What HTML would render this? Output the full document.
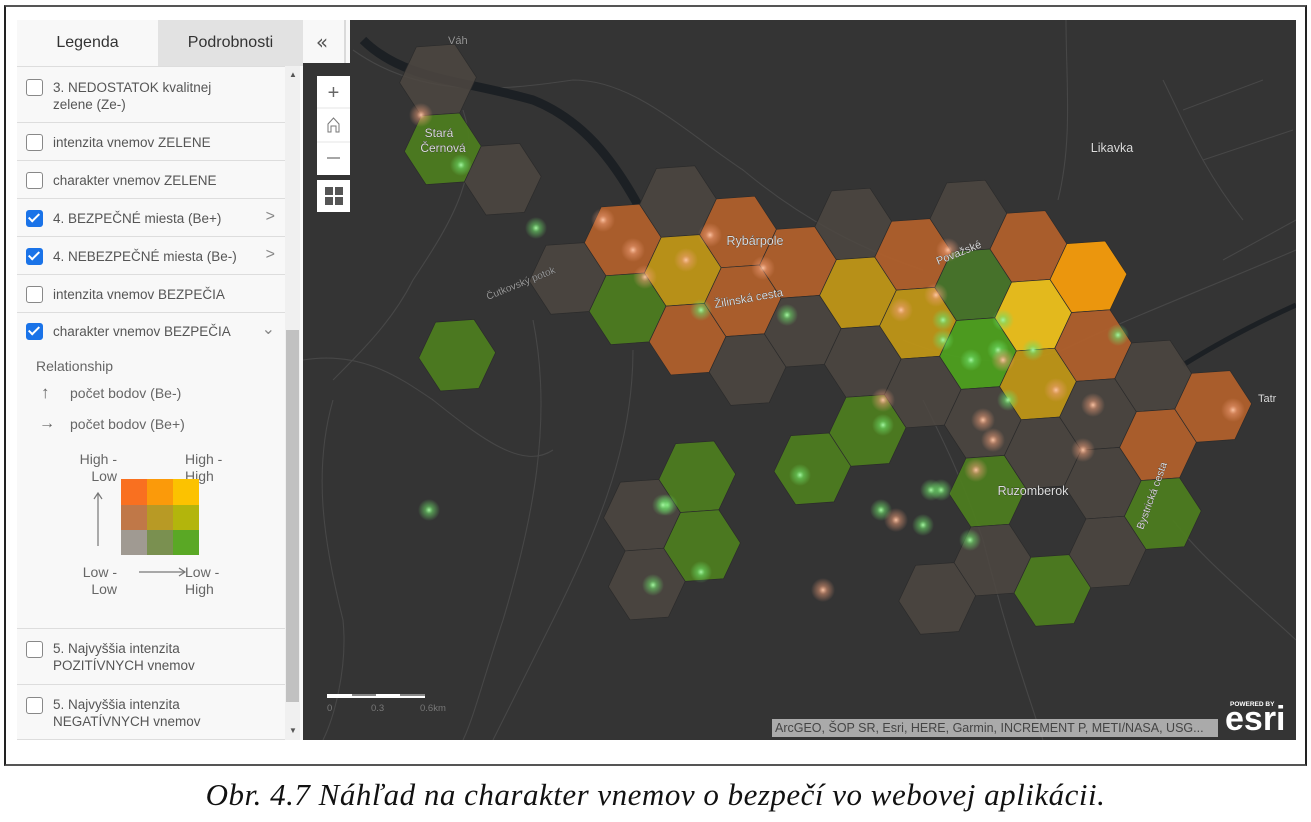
<!DOCTYPE html>
<html><head><meta charset="utf-8"><style>
body{margin:0;width:1311px;height:822px;background:#fff;position:relative;overflow:hidden;font-family:"Liberation Sans",sans-serif}
.frame{position:absolute;left:4px;top:5px;width:1299px;height:757px;border:2px solid #222;border-top-color:#555;border-bottom-color:#555}
.panel{position:absolute;left:17px;top:20px;width:286px;height:720px;background:#f8f8f8}
.tab{position:absolute;top:0;height:46px;line-height:46px;text-align:center;font-size:16px;color:#333}
.row{position:absolute;left:0;width:268px;border-bottom:1px solid #ddd;font-size:13.5px;color:#555}
.cb{position:absolute;left:9px;width:15px;height:15px;border:1.5px solid #888;border-radius:3px;background:#fff}
.cb.on{background:#1a73e8;border-color:#1a73e8}
.cb.on:after{content:"";position:absolute;left:4px;top:0px;width:4px;height:9px;border:solid #fff;border-width:0 2.5px 2.5px 0;transform:rotate(45deg)}
.lbl{position:absolute;left:36px;line-height:17px}
.chev{position:absolute;right:10px;color:#888;font-size:16px}
.sm{position:absolute;font-size:14px;color:#666;line-height:17px}
.caption{position:absolute;left:0;width:1311px;top:777px;text-align:center;font-family:"Liberation Serif",serif;font-style:italic;font-size:31px;color:#111;letter-spacing:0.5px}
</style></head><body>
<div class="frame"></div>
<div class="panel">
  <div class="tab" style="left:0;width:141px;background:#f8f8f8">Legenda</div>
  <div class="tab" style="left:141px;width:145px;background:#e2e2e2">Podrobnosti</div>
  <div style="position:absolute;left:0;top:46px;width:268px;height:1px;background:#ddd"></div>
  <div class="row" style="top:47px;height:55px"><div class="cb" style="top:12px"></div><div class="lbl" style="top:12px">3. NEDOSTATOK kvalitnej<br>zelene (Ze-)</div></div>
  <div class="row" style="top:103px;height:37px"><div class="cb" style="top:11px"></div><div class="lbl" style="top:11px">intenzita vnemov ZELENE</div></div>
  <div class="row" style="top:141px;height:37px"><div class="cb" style="top:11px"></div><div class="lbl" style="top:11px">charakter vnemov ZELENE</div></div>
  <div class="row" style="top:179px;height:37px"><div class="cb on" style="top:11px"></div><div class="lbl" style="top:11px">4. BEZPEČNÉ miesta (Be+)</div><div class="chev" style="top:9px">&gt;</div></div>
  <div class="row" style="top:217px;height:37px"><div class="cb on" style="top:11px"></div><div class="lbl" style="top:11px">4. NEBEZPEČNÉ miesta (Be-)</div><div class="chev" style="top:9px">&gt;</div></div>
  <div class="row" style="top:255px;height:37px"><div class="cb" style="top:11px"></div><div class="lbl" style="top:11px">intenzita vnemov BEZPEČIA</div></div>
  <div class="row" style="top:293px;height:315px"><div class="cb on" style="top:10px"></div><div class="lbl" style="top:10px">charakter vnemov BEZPEČIA</div><div class="chev" style="top:6px">&#8964;</div>
    <div class="sm" style="left:19px;top:45px">Relationship</div>
    <div class="sm" style="left:24px;top:71px;font-size:17px">&#8593;</div><div class="sm" style="left:53px;top:72px">počet bodov (Be-)</div>
    <div class="sm" style="left:22px;top:102px;font-size:16px">&#8594;</div><div class="sm" style="left:53px;top:103px">počet bodov (Be+)</div>
    <div class="sm" style="left:50px;top:138px;text-align:right;width:50px">High -<br>Low</div>
    <div class="sm" style="left:168px;top:138px">High -<br>High</div>
    <div class="sm" style="left:50px;top:251px;text-align:right;width:50px">Low -<br>Low</div>
    <div class="sm" style="left:168px;top:251px">Low -<br>High</div>
    <svg style="position:absolute;left:70px;top:160px" width="130" height="110">
      <line x1="11" y1="20" x2="11" y2="73" stroke="#777" stroke-width="1.2"/><path d="M7,26 L11,20 L15,26" fill="none" stroke="#777" stroke-width="1.2"/>
      <line x1="52" y1="99" x2="98" y2="99" stroke="#777" stroke-width="1.2"/><path d="M92,95 L98,99 L92,103" fill="none" stroke="#777" stroke-width="1.2"/>
      <rect x="34" y="6" width="26" height="26" fill="#f97020"/><rect x="60" y="6" width="26" height="26" fill="#fb9a0a"/><rect x="86" y="6" width="26" height="26" fill="#fcc200"/>
      <rect x="34" y="32" width="26" height="25" fill="#c07848"/><rect x="60" y="32" width="26" height="25" fill="#b89a25"/><rect x="86" y="32" width="26" height="25" fill="#b3b50c"/>
      <rect x="34" y="57" width="26" height="25" fill="#a09a92"/><rect x="60" y="57" width="26" height="25" fill="#7a9050"/><rect x="86" y="57" width="26" height="25" fill="#5aa825"/>
    </svg>
  </div>
  <div class="row" style="top:609px;height:55px"><div class="cb" style="top:12px"></div><div class="lbl" style="top:11px">5. Najvyššia intenzita<br>POZITÍVNYCH vnemov</div></div>
  <div class="row" style="top:665px;height:54px"><div class="cb" style="top:12px"></div><div class="lbl" style="top:11px">5. Najvyššia intenzita<br>NEGATÍVNYCH vnemov</div></div>
  <div style="position:absolute;left:268px;top:46px;width:15px;height:674px;background:#f0f0f0">
    <div style="position:absolute;left:1px;top:264px;width:13px;height:372px;background:#c1c1c1"></div>
    <div style="position:absolute;left:4px;top:4px;font-size:8px;color:#555">&#9650;</div>
    <div style="position:absolute;left:4px;top:660px;font-size:8px;color:#555">&#9660;</div>
  </div>
</div>
<svg style="position:absolute;left:303px;top:20px" width="993" height="720" id="map">
  <defs>
    <radialGradient id="gg"><stop offset="0" stop-color="#a6f5a2" stop-opacity="1"/><stop offset=".35" stop-color="#6ee06a" stop-opacity=".55"/><stop offset="1" stop-color="#6ee06a" stop-opacity="0"/></radialGradient>
    <radialGradient id="pg"><stop offset="0" stop-color="#ffc8a8" stop-opacity=".95"/><stop offset=".35" stop-color="#f3a07a" stop-opacity=".5"/><stop offset="1" stop-color="#f3a07a" stop-opacity="0"/></radialGradient>
  </defs>
  <rect width="993" height="720" fill="#343434"/>
  <g fill="none" stroke="#474747" stroke-width="1.1">
    <path d="M50,30 C120,80 200,70 270,60 C330,60 380,110 440,150 C500,200 560,230 620,250"/>
    <path d="M160,90 C180,150 150,200 110,260 C90,300 60,330 30,360"/>
    <path d="M0,340 C60,330 100,360 130,380 C180,420 220,450 250,430"/>
    <path d="M230,300 C250,400 230,500 200,600 C180,660 170,700 160,720"/>
    <path d="M330,330 C330,420 300,500 250,600 C220,660 200,700 190,720"/>
    <path d="M763,0 C763,60 770,120 755,180"/>
    <path d="M600,320 C650,340 700,350 760,330 C820,300 900,270 993,230"/>
    <path d="M620,380 C640,420 660,460 680,520 C700,600 720,660 740,720"/>
    <path d="M870,500 C900,540 950,580 993,620"/>
    <path d="M30,380 C10,450 20,520 40,600 C45,650 30,700 20,720"/>
    <path d="M860,60 C880,100 900,150 940,200 M880,90 L960,60 M900,140 L990,110 M920,240 L993,200"/>
  </g>
  <path d="M60,20 C100,60 160,60 230,80 C280,100 310,140 335,185" fill="none" stroke="#1c2024" stroke-width="9"/>
  <path d="M880,345 C920,320 960,300 993,285" fill="none" stroke="#1c2024" stroke-width="5"/>
  <g id="hexes"></g>
  <g id="dots"></g>
  <g font-family="'Liberation Sans',sans-serif" fill="#ddd" font-size="12" stroke="#222" stroke-width="0.4" paint-order="stroke">
    <text x="136" y="117" text-anchor="middle">Stará</text>
    <text x="140" y="132" text-anchor="middle">Černová</text>
    <text x="145" y="24" fill="#999" font-size="11">Váh</text>
    <text x="452" y="225" text-anchor="middle" font-size="12.5">Rybárpole</text>
    <text x="809" y="132" text-anchor="middle" font-size="12.5">Likavka</text>
    <text x="730" y="475" text-anchor="middle" font-size="12.5">Ruzomberok</text>
    <text x="412" y="288" font-size="11.5" transform="rotate(-10 412 288)">Žilinská cesta</text>
    <text x="635" y="245" font-size="11" transform="rotate(-22 635 245)">Považské</text>
    <text x="185" y="280" font-size="10" fill="#999" transform="rotate(-22 185 280)">Čutkovský potok</text>
    <text x="840" y="510" font-size="10.5" transform="rotate(-70 840 510)">Bystrická cesta</text>
    <text x="955" y="382" font-size="11">Tatr</text>
  </g>
  <rect x="0" y="0" width="47" height="43" fill="#f8f8f8"/>
  <line x1="42" y1="0" x2="42" y2="43" stroke="#bbb"/>
  <text x="19" y="29" font-size="20" fill="#555" text-anchor="middle" font-family="'DejaVu Sans',sans-serif">«</text>
  <g>
    <rect x="14" y="56" width="33" height="99" fill="#fff"/>
    <line x1="14" y1="88" x2="47" y2="88" stroke="#e4e4e4"/><line x1="14" y1="122" x2="47" y2="122" stroke="#e4e4e4"/>
    <text x="30.5" y="79" font-size="20" fill="#666" text-anchor="middle">+</text>
    <path d="M25,112 L25,104 L30.5,98 L36,104 L36,112 L33,112 L33,106 L28,106 L28,112 Z" fill="none" stroke="#777"/>
    <line x1="24" y1="138" x2="37" y2="138" stroke="#777" stroke-width="1.3"/>
  </g>
  <g>
    <rect x="14" y="160" width="33" height="32" fill="#fff"/>
    <rect x="22" y="167" width="8" height="8" fill="#555"/><rect x="32" y="167" width="8" height="8" fill="#555"/>
    <rect x="22" y="177" width="8" height="8" fill="#555"/><rect x="32" y="177" width="8" height="8" fill="#555"/>
  </g>
  <g>
    <rect x="24" y="674" width="98" height="4" fill="#fff"/>
    <rect x="49" y="674" width="24" height="2" fill="#888"/><rect x="97" y="674" width="25" height="2" fill="#888"/>
    <text x="24" y="691" font-size="9.5" fill="#777">0</text><text x="68" y="691" font-size="9.5" fill="#777">0.3</text><text x="117" y="691" font-size="9.5" fill="#777">0.6km</text>
  </g>
  <rect x="469" y="699" width="446" height="18" fill="#c8c8c8" opacity=".8"/>
  <text x="472" y="712" font-size="12.5" fill="#444">ArcGEO, ŠOP SR, Esri, HERE, Garmin, INCREMENT P, METI/NASA, USG...</text>
  <text x="927" y="686" font-size="6.5" fill="#fff" font-weight="bold">POWERED BY</text>
  <text x="922" y="710" font-size="34" fill="#fff" font-weight="bold">esri</text>
</svg>
<div class="caption">Obr. 4.7 Náhľad na charakter vnemov o bezpečí vo webovej aplikácii.</div>
<script>
const hexQ=[-5,-5,-4,-5,-3,-2,-1,-1,-2,-1,0,0,0,1,1,2,2,2,3,3,3,4,4,4,4,4,4,5,5,5,5,5,3,6,6,6,6,6,7,7,7,8,2,1,-1,-1,-2,-2];
const hexR=[0,1,1,4,2,1,0,1,2,2,0,1,2,0,1,-1,0,1,-1,0,1,-2,-1,0,1,2,3,-2,-1,0,1,3,4,-2,-1,0,1,2,-1,0,1,-1,2,3,4,5,5,6];
const hexCls=["grey","green","grey","green","grey","orange","grey","yellow","green","orange","orange","orange","grey","orange","grey","grey","yellow","grey","orange","yellow","grey","grey","dgreen","bgreen","grey","green","grey","orange","byellow","yellow","grey","green","grey","borange","orange","grey","grey","grey","grey","orange","green","orange","green","green","green","green","grey","grey"];
const fills={grey:"#4d4842",orange:"#b0602c",yellow:"#bf9617",green:"#4d7c20",dgreen:"#48752a",bgreen:"#4ea01f",byellow:"#edc11c",borange:"#f59c0c"};
const dotX=[118,158,233,484,640,700,695,730,705,690,673,638,578,593,620,667,815,700,598,633,640,668,628,364,360,497,580,580,780,398,383,330,300,407,460,342,645,753,680,520,126,398,350,930,790];
const dotY=[95,145,208,295,300,300,330,330,380,420,450,470,490,500,505,520,315,340,290,275,320,340,470,485,485,455,405,380,430,290,240,230,200,215,248,257,230,370,400,570,490,552,565,390,385];
const dotType=["p","g","g","g","g","g","g","g","g","p","p","g","g","p","g","g","g","p","p","p","g","g","g","g","g","g","g","p","p","g","p","p","p","p","p","p","p","p","p","p","g","g","g","p","p"];
const NS="http://www.w3.org/2000/svg";
const O=[435,212],R=38.5,H=34.5,t=4*Math.PI/180,c=Math.cos(t),s=Math.sin(t);
function hx(q,r){return [O[0]+q*60+r*4.8,O[1]+q*30.4+r*68.8];}
const hg=document.getElementById('hexes');
const lv=[[R,0],[R/2,H],[-R/2,H],[-R,0],[-R/2,-H],[R/2,-H]];
for(let i=0;i<hexQ.length;i++){
  const [cx,cy]=hx(hexQ[i],hexR[i]);
  const pts=lv.map(([x,y])=>(cx+x*c+y*s).toFixed(1)+','+(cy-x*s+y*c).toFixed(1)).join(' ');
  const p=document.createElementNS(NS,'polygon');
  p.setAttribute('points',pts);
  p.setAttribute('fill',fills[hexCls[i]]);
  p.setAttribute('fill-opacity',hexCls[i]==='grey'?0.85:0.95);
  p.setAttribute('stroke','#2b2b2b');
  p.setAttribute('stroke-width','0.7');
  
  
  hg.appendChild(p);
}
const dg=document.getElementById('dots');
for(let i=0;i<dotX.length;i++){
  const e=document.createElementNS(NS,'circle');
  e.setAttribute('cx',dotX[i]);e.setAttribute('cy',dotY[i]);
  e.setAttribute('r',dotType[i]==='g'?11:12);
  e.setAttribute('fill',dotType[i]==='g'?'url(#gg)':'url(#pg)');
  
  
  dg.appendChild(e);
}
</script>
</body></html>
